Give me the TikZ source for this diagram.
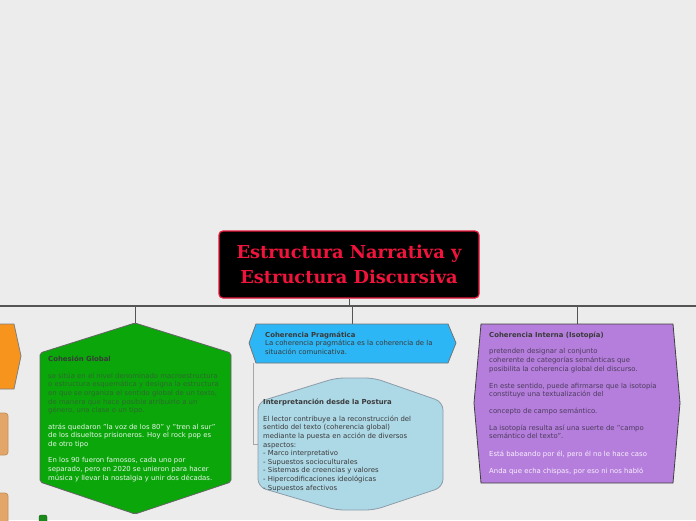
\documentclass[tikz,border=0pt]{standalone}
\usepackage{fontspec}
\setmainfont{DejaVu Sans}
\newfontfamily\titlefont{DejaVu Serif}
\usetikzlibrary{calc}
\definecolor{bg}{HTML}{ECECEC}
\definecolor{busc}{HTML}{555555}
\definecolor{rootred}{HTML}{F0143C}
\definecolor{rootborder}{HTML}{E8173A}
\definecolor{greenf}{HTML}{0AA60A}
\definecolor{greendark}{HTML}{2F6A2F}
\definecolor{greenlight}{HTML}{EAF6EA}
\definecolor{bluef}{HTML}{2DB6F5}
\definecolor{lbluef}{HTML}{ADD8E6}
\definecolor{lblueb}{HTML}{8C9CA8}
\definecolor{purplef}{HTML}{B57EDC}
\definecolor{purpledark}{HTML}{4B3B5B}
\definecolor{purplelight}{HTML}{F8F0FC}
\definecolor{orangef}{HTML}{F7941D}
\definecolor{tanf}{HTML}{E2A66A}
\definecolor{tanb}{HTML}{C49058}
\definecolor{dotg}{HTML}{1A8A1A}
\definecolor{txtdark}{HTML}{3A3A3A}
\begin{document}
\begin{tikzpicture}[x=1pt,y=-1pt,
  box/.style={inner sep=0pt, outer sep=0pt},
  txt/.style={inner sep=0pt, anchor=north west, align=left, font=\fontsize{6.9}{8.6}\selectfont},
  txtb/.style={txt, text=txtdark, font=\fontsize{6.9}{8.6}\selectfont\bfseries},
  bus/.style={draw=busc, line width=1.3pt},
  branch/.style={draw=busc, line width=1pt},
  subline/.style={draw=black!35, line width=0.9pt},
  rootbox/.style={fill=black, draw=rootborder, line width=1.2pt, rounded corners=4pt,
    minimum width=260pt, minimum height=67pt, align=center, text=rootred,
    font=\titlefont\bfseries\fontsize{17.8}{25}\selectfont}]
\useasboundingbox (0,0) rectangle (696,520);
\clip (0,0) rectangle (696,520);
\fill[bg] (0,0) rectangle (696,520);

% invisible anchor nodes for shapes
\node[box, minimum width=191pt, minimum height=191pt] (green) at (135.5,418.5) {};
\node[box, minimum width=207pt, minimum height=39pt] (blue) at (352.5,343.5) {};
\node[box, minimum width=185pt, minimum height=132pt] (lblue) at (350.5,444) {};
\node[box, minimum width=206pt, minimum height=159pt] (purple) at (577,403.5) {};
\coordinate (busL) at (0,306);
\coordinate (busR) at (696,306);

% connectors
\draw[bus] (busL) -- (busR);
\node[rootbox] (root) at (349,264.5) {Estructura Narrativa y\\Estructura Discursiva};
\draw[branch] (root.south) -- (root.south |- busL);
\draw[branch] (green.north) -- (green.north |- busL);
\draw[branch] (blue.north) -- (blue.north |- busL);
\draw[branch] (purple.north) -- (purple.north |- busL);
\draw[subline] ($(blue.south west)+(4,0)$) |- (lblue.west);

% left partial shapes
\draw[fill=orangef, draw=black!50, line width=0.8pt] (-5,324) -- (14,324) -- (21,356) -- (14,389) -- (-5,389) -- cycle;
\draw[fill=tanf, draw=tanb, line width=0.8pt, rounded corners=3pt] (-10,413) rectangle (8,455);
\draw[fill=tanf, draw=tanb, line width=0.8pt, rounded corners=3pt] (-10,493) rectangle (8,535);
\draw[fill=dotg, draw=dotg!70!black, rounded corners=2pt] (39,515) rectangle (47,528);

% green hexagon
\draw[fill=greenf, draw=black!60, line width=0.8pt, rounded corners=2pt]
  (135,323) -- (231,353) -- (231,482) -- (135,514) -- (40,482) -- (40,353) -- cycle;
\node[txtb] (g1) at (48,355.5) {Cohesión Global};
\node[txt, text=greendark] (g2) at (48,372.5) {se sitúa en el nivel denominado macroestructura\\o estructura esquemática y designa la estructura\\en que se organiza el sentido global de un texto,\\de manera que hace posible atribuirlo a un\\género, una clase o un tipo.};
\node[txt, text=greenlight] (g3) at (48,423.5) {atrás quedaron "la voz de los 80" y "tren al sur"\\de los disueltos prisioneros. Hoy el rock pop es\\de otro tipo};
\node[txt, text=greenlight] (g4) at (48,457.5) {En los 90 fueron famosos, cada uno por\\separado, pero en 2020 se unieron para hacer\\música y llevar la nostalgia y unir dos décadas.};

% blue hexagon
\draw[fill=bluef, draw=black!55, line width=0.8pt]
  (249,343) -- (256,324) -- (448,324) -- (456,343) -- (448,363) -- (256,363) -- cycle;
\node[txt, text=txtdark] (b1) at (265,331.5) {\textbf{Coherencia Pragmática}\\La coherencia pragmática es la coherencia de la\\situación comunicativa.};

% light blue shape
\draw[fill=lbluef, draw=lblueb, line width=0.8pt, rounded corners=8pt]
  (258,402) -- (336,378) -- (374,378) -- (443,402) -- (443,487) -- (374,510) -- (336,510) -- (258,487) -- cycle;
\node[txtb] (l1) at (263,398.5) {Interpretanción desde la Postura};
\node[txt, text=txtdark] (l2) at (263,415.5) {El lector contribuye a la reconstrucción del\\sentido del texto (coherencia global)\\mediante la puesta en acción de diversos\\aspectos:\\- Marco interpretativo\\- Supuestos socioculturales\\- Sistemas de creencias y valores\\- Hipercodificaciones ideológicas\\- Supuestos afectivos};

% purple shape
\draw[fill=purplef, draw=black!75, line width=0.8pt]
  (481,324) -- (673,324) -- (680,403) -- (673,483) -- (481,483) -- (474,403) -- cycle;
\node[txtb] (p1) at (489,331.5) {Coherencia Interna (Isotopía)};
\node[txt, text=purpledark] (p2) at (489,348.5) {pretenden designar al conjunto\\coherente de categorías semánticas que\\posibilita la coherencia global del discurso.};
\node[txt, text=purpledark] (p3) at (489,382.5) {En este sentido, puede afirmarse que la isotopía\\constituye una textualización del};
\node[txt, text=purpledark] (p4) at (489,407.5) {concepto de campo semántico.};
\node[txt, text=purpledark] (p5) at (489,424.5) {La isotopía resulta así una suerte de "campo\\semántico del texto".};
\node[txt, text=purplelight] (p6) at (489,450.5) {Está babeando por él, pero él no le hace caso};
\node[txt, text=purplelight] (p7) at (489,467.5) {Anda que echa chispas, por eso ni nos habló};
\end{tikzpicture}
\end{document}
